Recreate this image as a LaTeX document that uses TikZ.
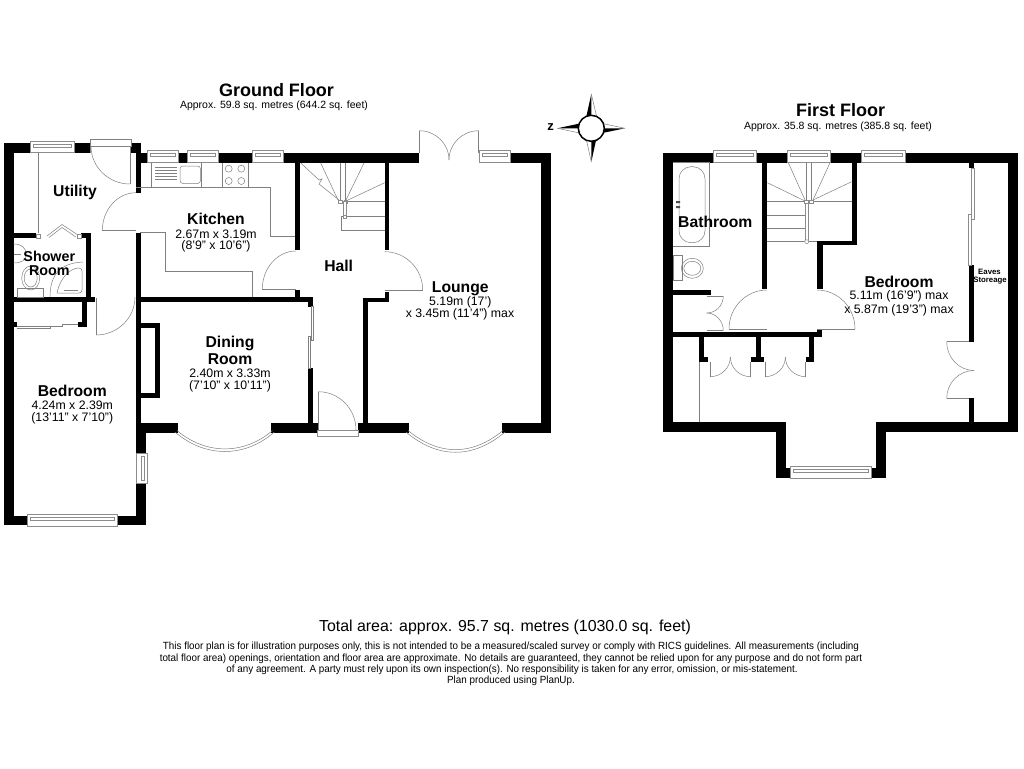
\documentclass[tikz,border=0pt]{standalone}
\usepackage{fontspec}
\setmainfont{Liberation Sans}
\usetikzlibrary{calc}

\tikzset{
	fixline/.style={draw=black!50,line width=0.5pt},
	winline/.style={draw=black!45,line width=0.5pt,fill=white},
	floortitle/.style={font=\fontsize{18}{18}\selectfont\bfseries},
	floorarea/.style={font=\fontsize{10.5}{12}\selectfont},
	roomtitle/.style={font=\fontsize{15.7}{16}\selectfont\bfseries},
	roomdim/.style={font=\fontsize{12.3}{13}\selectfont},
	notetext/.style={font=\fontsize{10.4}{11}\selectfont,xscale=0.948,transform shape}
}
% quarter circle: centre, start, end
\newcommand{\swing}[3]{\draw[fixline] #2 .. controls ($#2+.5523*#3-.5523*#1$) and ($#3+.5523*#2-.5523*#1$) .. #3;}
% windows
\newcommand{\hwin}[4]{
	\draw[winline] (#1,#3) rectangle (#2,#4);
	\draw[winline] ($(#1,#3)+(3,3)$) rectangle ($(#2,#3)+(-3,6)$);
}
\newcommand{\vwin}[4]{
	\draw[winline] (#1,#3) rectangle (#2,#4);
	\draw[winline] ($(#1,#3)+(5,3)$) rectangle ($(#1,#4)+(8,-3)$);
}

\begin{document}
\begin{tikzpicture}[x=1pt,y=-1pt]
		\useasboundingbox[fill=white] (0,0) rectangle (1024,768);
		%
		% ground floor walls
		\foreach \xa/\ya/\xb/\yb in {
			3.5/143/13.5/525, 3.5/143/31/153, 74/143/91/153, 131/143/140.5/153,
			136/143/140.5/192.5, 140/152.7/147/162.7, 178/152.7/187/162.7,
			218/152.7/252/162.7, 283/152.7/418.5/162.7, 510/152.7/551/162.7,
			541/152.7/551/432.7, 502/422.7/551/432.7, 358/422.7/409/432.7,
			270.7/422.7/317.5/432.7, 140.7/422.7/178.3/432.7,
			295.3/162/300/250, 384.7/162/389.3/250, 295.3/290/300/298,
			140/296.7/313.3/301.7, 308.3/297/313.3/306.7, 308.3/368/313.3/423,
			362.7/298.3/389.3/302.3, 384.7/292/389.3/302.3, 362.7/298.3/368/423,
			135.7/232.7/140.7/432.7, 135.7/428/145.7/453.5, 135.7/483/145.7/525,
			13/516/27/525, 117/516/145.7/525,
			140.7/322.7/160/327.7, 155/322.7/160/398.3, 140.7/393.3/160/398.3,
			13/233.3/36/238.3, 81/233.3/91/238.3, 86/233.3/91/297, 13/296.7/95/302,
			81.7/302/86.7/327.3, 78.3/322.3/86.7/327.3, 13/322/16.7/327}
			\fill[black] (\xa,\ya) rectangle (\xb,\yb);
		% first floor walls
		\foreach \xa/\ya/\xb/\yb in {
			663.3/152.7/673.3/432.3, 663.3/152.7/713/162.7, 756.7/152.7/787.5/162.7,
			830.7/152.7/861.7/162.7, 905.7/152.7/1018.3/162.7, 1008.3/152.7/1018.3/432.3,
			663.3/422.3/785.7/432.3, 876/422.3/1018.3/432.3, 775.7/422.3/785.7/477.7,
			775.7/467.7/790.7/477.7, 876/422.3/886/477.7, 871/467.7/886/477.7,
			761.7/162/767.3/289.3, 851.7/162/856.5/245.3, 817.3/240.7/856.5/245.3,
			817.3/240.7/822.7/289.3, 673/290/710.7/295, 673/331.7/817/336.7,
			817/329.3/822/336.7, 699/336.7/704.3/361.7, 699/356.7/708.3/361.7,
			756/336.7/761/361.7, 751/356.7/764/361.7, 809/336.7/814/361.7,
			806/356.7/814/361.7, 969/162/974.3/168.3, 969/265/974.3/341.7,
			969/398.3/974.3/423}
			\fill[black] (\xa,\ya) rectangle (\xb,\yb);
		%
		% ground floor windows
		\hwin{30.7}{74}{141.7}{152.7}
		\hwin{147}{178}{150.7}{162.7}
		\hwin{187}{218}{150.7}{162.7}
		\hwin{252}{283}{150.7}{162.7}
		\hwin{479}{510}{150.7}{162.7}
		\hwin{27}{117}{514}{526}
		\vwin{136}{147}{453.5}{483.3}
		% first floor windows
		\hwin{713}{756.7}{150}{162.7}
		\hwin{787.5}{830.7}{150}{162.7}
		\hwin{861.7}{905.7}{150}{162.7}
		\hwin{790.7}{871}{466.5}{478.5}
		%
		% ground floor doors
		\draw[fixline] (90.7,152.7) -- (90.7,139.3) -- (131.3,139.3) -- (131.3,146) -- (90.7,146);
		\draw[fixline] (130,146) -- (130,184);
		\swing{(130,146)}{(91,146)}{(130,184)}
		\draw[fixline] (136,230.7) -- (102.3,230.7);
		\swing{(136,230.7)}{(102.3,230.7)}{(136,192.7)}
		\draw[fixline] (96,298) -- (96,335);
		\swing{(96,297)}{(96,335)}{(135,297)}
		\draw[fixline] (296,289.3) -- (262.3,289.3);
		\swing{(296,289.3)}{(262.3,289.3)}{(296,251)}
		\draw[fixline] (384.7,290) -- (422.7,290);
		\swing{(384.7,290)}{(422.7,290)}{(384.7,251.7)}
		\draw[winline] (317.3,430.5) rectangle (358.3,436.7);
		\draw[fixline] (318.3,430) -- (318.3,391.7);
		\swing{(318.3,430)}{(318.3,391.7)}{(356,430)}
		\draw[fixline] (419.3,153) -- (419.3,130.7);
		\draw[fixline] (478.7,153) -- (478.7,130.7);
		\swing{(419.3,160)}{(419.3,130.7)}{(449,160)}
		\swing{(478.7,160)}{(478.7,130.7)}{(449,160)}
		\draw[fixline] (311,306.7) -- (313,306.7) -- (313,340) -- (311,340) -- (311,306.7);
		\draw[fixline] (308,336) -- (310,336) -- (310,368) -- (308,368) -- (308,336);
		\draw[fixline] (16.7,326) -- (62,326) -- (62,324.5) -- (78,324.5);
		\draw[fixline] (16.7,328) -- (50,328) -- (50,326);
		% bay windows
		\draw[fixline] (175,432) .. controls (205,458) and (245,458) .. (274.3,432);
		\draw[fixline] (177,430.5) .. controls (206,455) and (244,455) .. (272.5,430.5);
		\draw[fixline] (406,432) .. controls (438,459) and (473,459) .. (505,432);
		\draw[fixline] (408,430.5) .. controls (439,456) and (472,456) .. (503,430.5);
		%
		% utility and shower room
		\draw[fixline] (38.3,153) -- (38.3,233.3);
		\draw[winline] (36.5,234) rectangle (40,238);
		\draw[winline] (77,234) rectangle (81,238);
		\draw[fixline] (47,236) -- (62,224.5) -- (78,235);
		\draw[fixline] (49,237.5) -- (62,227.5) -- (76,237);
		\draw[fixline] (13.5,244) .. controls (22,244) and (26,248) .. (26,254) .. controls (26,260) and (22,263) .. (13.5,263);
		\draw[fixline] (14,254) -- (21,254);
		\draw[fixline] (17.5,297) rectangle (43.5,288);
		\draw[fixline] (30.7,278) ellipse (9 and 12);
		\draw[fixline] (30.7,278) ellipse (6.5 and 9);
		\draw[fixline] (50,297) .. controls (50,275) and (60,263) .. (83,262);
		\draw[fixline,rounded corners=3pt] (57,293) -- (82,293) -- (82,268) .. controls (70,268) and (60,278) .. (57,293);
		\draw[fixline] (64,290) -- (78,290);
		%
		% kitchen units
		\draw[fixline] (136,187.7) -- (270,187.7) -- (270,236.7) -- (295.3,236.7);
		\draw[fixline] (140,232.7) -- (165.7,232.7) -- (165.7,271.7) -- (252.3,271.7) -- (252.3,296.7);
		\draw[fixline] (151.7,162.7) -- (151.7,187.3) (201,162.7) -- (201,187.3);
		\draw[fixline] (222.7,162.7) -- (222.7,187.3) (248.3,162.7) -- (248.3,187.3);
		\foreach \ya in {167,170,173,176,179}
			\draw[fixline] (155,\ya) -- (176.5,\ya);
		\draw[fixline,rounded corners=3pt] (180,166) rectangle (200.5,183.5);
		\foreach \xa in {228.7,241.3}
			\foreach \ya in {168.7,181}
				\draw[fixline] (\xa,\ya) circle (3.5);
		%
		% ground floor stairs
		\draw[fixline] (300.7,163) -- (319,180) -- (322,179) -- (319,184) -- (339,200);
		\draw[fixline] (320.7,163) -- (338,200);
		\draw[fixline] (340,163) -- (340,201) (345.7,163) -- (345.7,201);
		\draw[fixline] (364,163) -- (346,200) (384.7,182.7) -- (348,200);
		\draw[fixline] (346,201.7) -- (384.7,201.7) (346,216) -- (384.7,216);
		\draw[fixline] (341.7,216) -- (341.7,230) -- (384.7,230);
		\draw[fixline] (341.7,216) -- (346,216);
		\draw[winline] (338.5,200) rectangle (342,203.5);
		\draw[winline] (344,200) rectangle (347.5,203.5);
		\draw[winline] (343,201.5) rectangle (346,215);
		\draw[winline] (343,215) rectangle (346.5,218);
		%
		% first floor stairs
		\draw[fixline] (788.3,162.7) -- (805,200) (830,162.7) -- (813,200);
		\draw[fixline] (806.7,162.7) -- (806.7,200) (811.7,162.7) -- (811.7,200);
		\draw[fixline] (767.3,182.7) -- (805,201) (851.7,181.7) -- (813,200);
		\draw[fixline] (767.3,201) -- (851.7,201);
		\draw[fixline] (767.3,215) -- (805,215) (767.3,228.3) -- (805,228.3);
		\draw[fixline] (767.3,241.7) -- (817.3,241.7);
		\draw[winline] (804.5,200) rectangle (808,203.5);
		\draw[winline] (809.5,200) rectangle (813,203.5);
		\draw[winline] (805,203.5) rectangle (808,240);
		\draw[winline] (806.7,241.7) circle (2);
		%
		% bathroom
		\draw[fixline] (673.3,162.7) -- (709,162.7) -- (709,246.7) -- (673.3,246.7);
		\draw[fixline,rounded corners=12pt] (679,166.7) rectangle (705,242.7);
		\fill[black!70] (676,201) rectangle (680,203) (676,206) rectangle (680,208);
		\draw[fixline] (673.3,255) rectangle (682.7,280);
		\draw[fixline] (692.3,268.3) ellipse (11 and 10);
		\draw[fixline] (692.3,268.3) ellipse (8.5 and 7);
		%
		% first floor doors
		\draw[fixline] (706.7,296) -- (723.3,296) (706.7,330.7) -- (723.3,330.7);
		\swing{(706.7,296)}{(723.3,296)}{(706.7,313)}
		\swing{(706.7,330.7)}{(723.3,330.7)}{(706.7,313)}
		\draw[fixline] (729,329) -- (767,329);
		\swing{(767,329)}{(729,329)}{(767,290)}
		\draw[fixline] (817,329) -- (855,329);
		\swing{(817,329)}{(855,329)}{(817,290)}
		\foreach \xa/\xb in {710/750.7,765/805.7}{
			\draw[fixline] (\xa,361.7) -- (\xa,376.7) (\xb,361.7) -- (\xb,376.7);
			\swing{(\xa,357)}{(\xa,376.7)}{($(\xa,357)!.5!(\xb,357)$)}
			\swing{(\xb,357)}{(\xb,376.7)}{($(\xa,357)!.5!(\xb,357)$)}
		}
		\draw[fixline] (699,361.7) -- (699,422.3);
		\draw[winline] (971.7,168.3) rectangle (974,219.3);
		\draw[winline] (968.7,214) rectangle (971.3,265);
		\draw[fixline] (946.7,341.7) -- (969,341.7) (946.7,398.3) -- (969,398.3);
		\swing{(974,341.7)}{(946.7,341.7)}{(974,370.5)}
		\swing{(974,398.3)}{(946.7,398.3)}{(974,370.5)}
		%
		% compass
		\coordinate (compassC) at (591.3,128.3);
		\fill[black] (compassC) -- (586,118) -- (591.3,94) -- cycle;
		\fill[black] (compassC) -- (582,123) -- (557.3,128.3) -- cycle;
		\fill[black] (compassC) -- (600,133.5) -- (625,128.3) -- cycle;
		\fill[black] (compassC) -- (596.5,138) -- (591.3,162) -- cycle;
		\draw[fixline] (591.3,94) -- (597,118) (625,128.3) -- (600,123);
		\draw[fixline] (591.3,162) -- (586,138) (557.3,128.3) -- (582,133.5);
		\node[circle,draw=black,fill=white,line width=1.5pt,minimum size=26pt,inner sep=0pt] (compass) at (compassC) {};
		\node[font=\fontsize{13}{13}\selectfont\bfseries] (compassZ) at (550.5,127) {z};
		%
		% titles
		\node[floortitle] (groundTitle) at (276.5,90) {Ground Floor};
		\node[floorarea] (groundArea) at (274,106) {Approx. 59.8 sq. metres (644.2 sq. feet)};
		\node[floortitle] (firstTitle) at (840.5,110) {First Floor};
		\node[floorarea] (firstArea) at (838,127) {Approx. 35.8 sq. metres (385.8 sq. feet)};
		% ground floor rooms
		\node[roomtitle] (utility) at (75,192.7) {Utility};
		\node[roomtitle,font=\fontsize{14.3}{15}\selectfont\bfseries] (shower) at (49.3,256.7) {Shower};
		\node[roomtitle,font=\fontsize{14.3}{15}\selectfont\bfseries] (showerB) at (49.3,270.7) {Room};
		\node[roomtitle] (kitchen) at (216,219.3) {Kitchen};
		\node[roomdim] (kitchenA) at (216,234) {2.67m x 3.19m};
		\node[roomdim] (kitchenB) at (216,246.7) {(8'9" x 10'6")};
		\node[roomtitle] (hall) at (338.7,265.7) {Hall};
		\node[roomtitle] (lounge) at (460.3,288.3) {Lounge};
		\node[roomdim] (loungeA) at (460.3,302.7) {5.19m (17')};
		\node[roomdim] (loungeB) at (460,314.7) {x 3.45m (11'4") max};
		\node[roomtitle] (dining) at (230,343.3) {Dining};
		\node[roomtitle] (diningB) at (230,359) {Room};
		\node[roomdim] (diningC) at (230,373.3) {2.40m x 3.33m};
		\node[roomdim] (diningD) at (230,386.7) {(7'10" x 10'11")};
		\node[roomtitle] (bedroomG) at (72.3,390.7) {Bedroom};
		\node[roomdim] (bedroomGA) at (72.3,405.3) {4.24m x 2.39m};
		\node[roomdim] (bedroomGB) at (72.3,418) {(13'11" x 7'10")};
		% first floor rooms
		\node[roomtitle] (bathroom) at (715.3,222.3) {Bathroom};
		\node[roomtitle] (bedroomF) at (899,282.3) {Bedroom};
		\node[roomdim] (bedroomFA) at (899,296.7) {5.11m (16'9") max};
		\node[roomdim] (bedroomFB) at (899,310) {x 5.87m (19'3") max};
		\node[font=\fontsize{7.8}{8}\selectfont\bfseries] (eaves) at (989.5,272) {Eaves};
		\node[font=\fontsize{7.8}{8}\selectfont\bfseries] (eavesB) at (990,281) {Storeage};
		% footer
		\node[font=\fontsize{15.9}{16}\selectfont] (total) at (505,627) {Total area: approx. 95.7 sq. metres (1030.0 sq. feet)};
		\node[notetext] (noteA) at (511,647) {This floor plan is for illustration purposes only, this is not intended to be a measured/scaled survey or comply with RICS guidelines. All measurements (including};
		\node[notetext] (noteB) at (511,658.5) {total floor area) openings, orientation and floor area are approximate. No details are guaranteed, they cannot be relied upon for any purpose and do not form part};
		\node[notetext] (noteC) at (512,670) {of any agreement. A party must rely upon its own inspection(s). No responsibility is taken for any error, omission, or mis-statement.};
		\node[notetext] (noteD) at (511,681) {Plan produced using PlanUp.};
\end{tikzpicture}
\end{document}
